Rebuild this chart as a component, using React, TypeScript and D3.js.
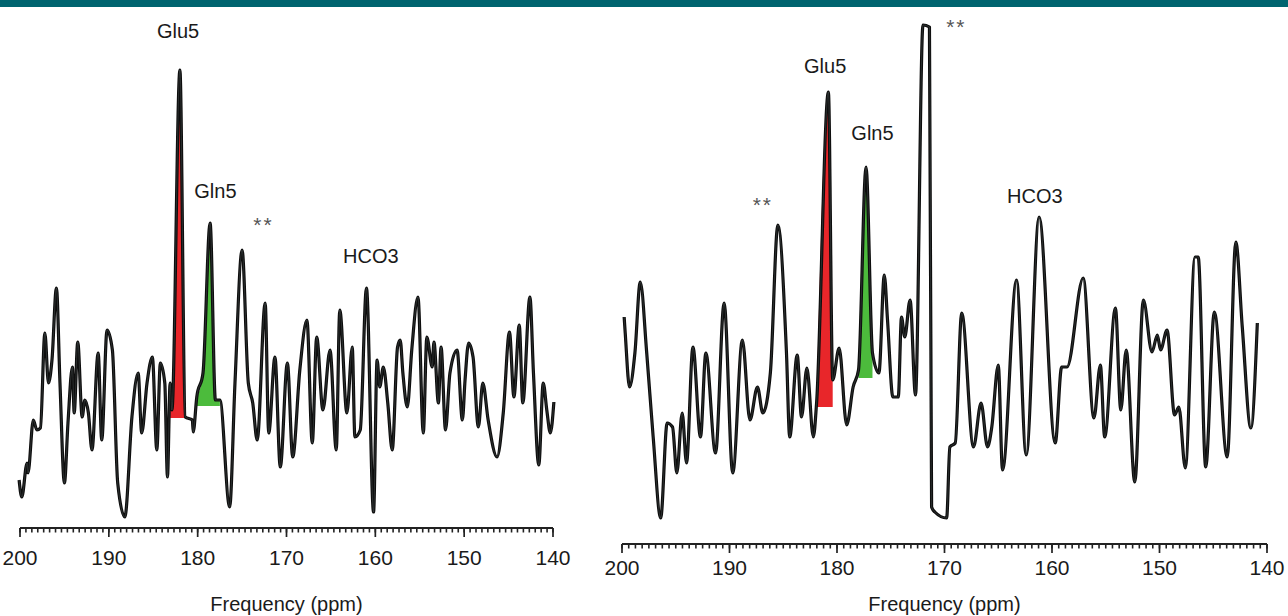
import * as d3 from 'd3'
import React, { useEffect, useRef } from 'react'

// left spectrum (ppm, intensity a.u.)
const leftPpm = [200.1, 199.8, 199.2, 199.1, 198.5, 198.1, 197.7, 197.2, 196.8, 196.4, 195.9, 195.5, 195.0, 194.6, 194.1, 193.9, 193.5, 193.0, 192.7, 192.3,
  191.9, 191.2, 190.8, 190.2, 189.6, 189.0, 188.2, 187.4, 186.7, 186.3, 185.7, 185.1, 184.6, 184.2, 183.7, 183.4, 183.1, 182.9, 182.0, 181.4,
  180.6, 180.5, 180.1, 179.4, 178.6, 178.0, 177.5, 176.4, 175.8, 175.0, 174.3, 173.8, 173.3, 172.4, 172.0, 171.3, 170.7, 169.9, 169.3, 168.5,
  167.7, 167.1, 166.6, 165.9, 165.1, 164.4, 164.0, 163.2, 162.6, 162.3, 161.7, 161.0, 160.2, 159.8, 159.5, 159.1, 158.6, 158.1, 157.5, 157.2,
  156.9, 156.4, 155.9, 155.2, 154.6, 154.2, 153.6, 153.4, 152.9, 152.6, 152.1, 151.6, 150.8, 150.2, 149.9, 149.5, 149.0, 148.4, 147.9, 147.3,
  146.3, 145.6, 144.9, 144.4, 143.8, 143.4, 142.6, 142.2, 141.6, 141.1, 140.7, 140.3, 139.9]
const leftIntensity = [9.4, 6.0, 12.8, 10.8, 21.4, 19.4, 19.8, 38.8, 28.8, 33.4, 47.8, 28.8, 8.8, 20.8, 32.0, 22.8, 37.0, 22.0, 25.4, 22.8,
  15.4, 34.8, 17.4, 39.4, 35.4, 8.8, 2.0, 22.0, 30.8, 18.8, 28.8, 34.0, 15.4, 32.8, 28.8, 10.0, 28.8, 23.4, 91.4, 22.0,
  21.4, 19.0, 26.0, 30.8, 60.8, 25.4, 25.4, 4.0, 28.8, 55.4, 28.8, 24.8, 17.4, 44.8, 18.8, 34.0, 12.0, 32.8, 14.0, 31.4,
  41.4, 16.8, 38.0, 23.4, 35.4, 15.4, 43.4, 22.8, 36.0, 18.0, 19.4, 47.8, 3.0, 33.4, 28.0, 32.0, 24.8, 15.4, 36.0, 37.4,
  30.8, 24.0, 35.4, 46.0, 18.8, 38.0, 32.0, 37.0, 24.8, 36.0, 19.4, 30.8, 35.4, 21.4, 29.4, 36.8, 34.0, 20.0, 28.8, 21.4,
  14.0, 22.8, 39.0, 26.0, 40.4, 24.8, 46.0, 30.8, 12.4, 28.8, 23.4, 18.8, 25.0]

// right spectrum (ppm, intensity a.u.)
const rightPpm = [199.8, 199.7, 199.3, 198.8, 198.3, 197.7, 197.1, 196.4, 195.8, 195.3, 194.9, 194.4, 194.0, 193.4, 192.7, 192.2, 191.3, 190.5, 189.7, 188.8,
  188.1, 187.4, 186.9, 186.2, 185.5, 184.7, 184.4, 183.7, 183.3, 182.8, 182.2, 181.9, 180.8, 180.4, 179.8, 179.1, 178.5, 178.0, 177.3, 176.7,
  176.1, 175.6, 175.3, 174.8, 174.3, 174.0, 173.7, 173.2, 172.7, 172.0, 171.4, 171.2, 170.9, 169.8, 169.5, 169.0, 168.4, 167.3, 166.6, 166.0,
  165.6, 165.0, 164.6, 163.3, 162.4, 161.2, 159.7, 159.1, 158.6, 157.1, 156.1, 155.5, 155.1, 154.1, 153.6, 153.1, 152.3, 151.5, 150.7, 150.2,
  149.9, 149.3, 148.6, 148.2, 147.6, 146.7, 146.4, 145.7, 144.9, 143.7, 142.9, 142.3, 141.5, 140.9]
const rightIntensity = [45.6, 42.4, 31.6, 38.4, 52.6, 38.4, 21.6, 5.4, 24.4, 23.6, 14.4, 26.4, 16.4, 39.6, 21.6, 38.4, 18.4, 48.4, 14.4, 41.0,
  25.0, 31.6, 26.4, 34.4, 64.0, 38.4, 21.6, 38.0, 25.6, 35.4, 21.6, 28.4, 90.6, 33.0, 39.4, 24.0, 31.6, 35.0, 75.6, 38.4,
  34.4, 54.0, 45.0, 29.6, 29.6, 45.6, 41.6, 49.0, 30.0, 104.0, 103.6, 7.6, 6.6, 5.4, 19.6, 20.4, 46.4, 19.6, 28.4, 19.6,
  23.6, 36.0, 15.0, 53.0, 18.0, 65.6, 20.4, 35.6, 35.6, 53.4, 25.4, 36.0, 21.6, 47.4, 27.0, 39.0, 12.6, 49.0, 38.6, 42.0,
  39.0, 43.0, 26.0, 27.6, 15.4, 57.6, 57.6, 15.6, 46.6, 17.6, 60.6, 43.6, 23.4, 44.4]

const majorTicks = [200, 190, 180, 170, 160, 150, 140]

// shaded peaks: [from ppm, to ppm, baseline intensity]
const leftGlu = [183.1, 180.6, 21.8]
const leftGln = [180.1, 177.5, 24.2]
const rightGlu = [182.0, 180.0, 27.6]
const rightGln = [178.1, 176.2, 33.4]

// annotations: text, ppm, intensity of baseline
const leftNotes = [['Glu5', 182.2, 97.8], ['Gln5', 178.0, 65.8], ['**', 172.6, 59.0], ['HCO3', 160.5, 52.8]]
const rightNotes = [['Glu5', 181.1, 94.4], ['Gln5', 176.7, 81.0], ['**', 186.9, 66.6], ['**', 168.9, 102.2], ['HCO3', 161.6, 68.4]]

const FONT = '"Liberation Sans", Arial, Helvetica, sans-serif'

function drawPanel (svg, opts) {
  const { ppm, values, x, y, axisY, minorStep, fills, notes } = opts
  const g = svg.append('g')
  const pts = ppm.map((p, i) => [p, values[i]])
  const curve = d3.curveMonotoneX

  fills.forEach(([hi, lo, base, color]) => {
    const sub = pts.filter(d => d[0] <= hi && d[0] >= lo)
    const area = d3.area()
      .x(d => x(d[0]))
      .y0(y(base))
      .y1(d => y(d[1]))
      .curve(curve)
    g.append('path').attr('d', area(sub)).attr('fill', color)
  })

  const line = d3.line().x(d => x(d[0])).y(d => y(d[1])).curve(curve)
  g.append('path')
    .attr('d', line(pts))
    .attr('fill', 'none')
    .attr('stroke', '#0d0d0d')
    .attr('stroke-width', 3.2)
    .attr('stroke-linejoin', 'round')
  g.append('path')
    .attr('d', line(pts))
    .attr('fill', 'none')
    .attr('stroke', '#7d8a8c')
    .attr('stroke-width', 0.6)
    .attr('opacity', 0.45)

  // axis
  const ax = g.append('g').attr('transform', `translate(0,${axisY})`)
  ax.append('line')
    .attr('x1', x(200)).attr('x2', x(140))
    .attr('stroke', '#222').attr('stroke-width', 1.8)
  const minors = d3.range(0, 60 / minorStep + 0.5).map(i => 200 - i * minorStep)
  ax.selectAll('line.minor').data(minors).enter().append('line')
    .attr('class', 'minor')
    .attr('x1', d => x(d)).attr('x2', d => x(d))
    .attr('y1', 0).attr('y2', 4.5)
    .attr('stroke', '#222').attr('stroke-width', 1.6)
  ax.selectAll('line.major').data(majorTicks).enter().append('line')
    .attr('class', 'major')
    .attr('x1', d => x(d)).attr('x2', d => x(d))
    .attr('y1', 0).attr('y2', 9)
    .attr('stroke', '#222').attr('stroke-width', 1.7)
  ax.selectAll('text').data(majorTicks).enter().append('text')
    .attr('x', d => x(d))
    .attr('y', opts.labelDy)
    .attr('text-anchor', 'middle')
    .attr('font-family', FONT)
    .attr('font-size', 21)
    .attr('fill', '#1a1a1a')
    .text(d => d)

  g.append('text')
    .attr('x', (x(200) + x(140)) / 2)
    .attr('y', 611)
    .attr('text-anchor', 'middle')
    .attr('font-family', FONT)
    .attr('font-size', 20)
    .attr('fill', '#1a1a1a')
    .text('Frequency (ppm)')

  notes.forEach(([t, p, v]) => {
    const star = t === '**'
    g.append('text')
      .attr('x', x(p))
      .attr('y', y(v))
      .attr('text-anchor', 'middle')
      .attr('font-family', FONT)
      .attr('font-size', star ? 21 : 20)
      .attr('letter-spacing', star ? 2 : 0)
      .attr('fill', star ? '#555' : '#1a1a1a')
      .text(t)
  })
}

export default function App () {
  const ref = useRef(null)

  useEffect(() => {
    const svg = d3.select(ref.current)
    svg.selectAll('*').remove()

    svg.append('rect').attr('x', 0).attr('y', 0).attr('width', 1288).attr('height', 7).attr('fill', '#00646f')

    drawPanel(svg, {
      ppm: leftPpm,
      values: leftIntensity,
      x: d3.scaleLinear().domain([200, 140]).range([20, 553]),
      y: d3.scaleLinear().domain([0, 100]).range([527, 27]),
      axisY: 528,
      labelDy: 37,
      minorStep: 2 / 3,
      fills: [[...leftGlu, '#e8262a'], [...leftGln, '#4cbb3c']],
      notes: leftNotes
    })

    drawPanel(svg, {
      ppm: rightPpm,
      values: rightIntensity,
      x: d3.scaleLinear().domain([200, 140]).range([622, 1267]),
      y: d3.scaleLinear().domain([0, 100]).range([545, 45]),
      axisY: 544,
      labelDy: 31,
      minorStep: 0.625,
      fills: [[...rightGlu, '#e8262a'], [...rightGln, '#4cbb3c']],
      notes: rightNotes
    })
  }, [])

  return (
    <svg
      ref={ref}
      width={1288}
      height={616}
      style={{ position: 'absolute', left: 0, top: 0, background: '#fff' }}
    />
  )
}
